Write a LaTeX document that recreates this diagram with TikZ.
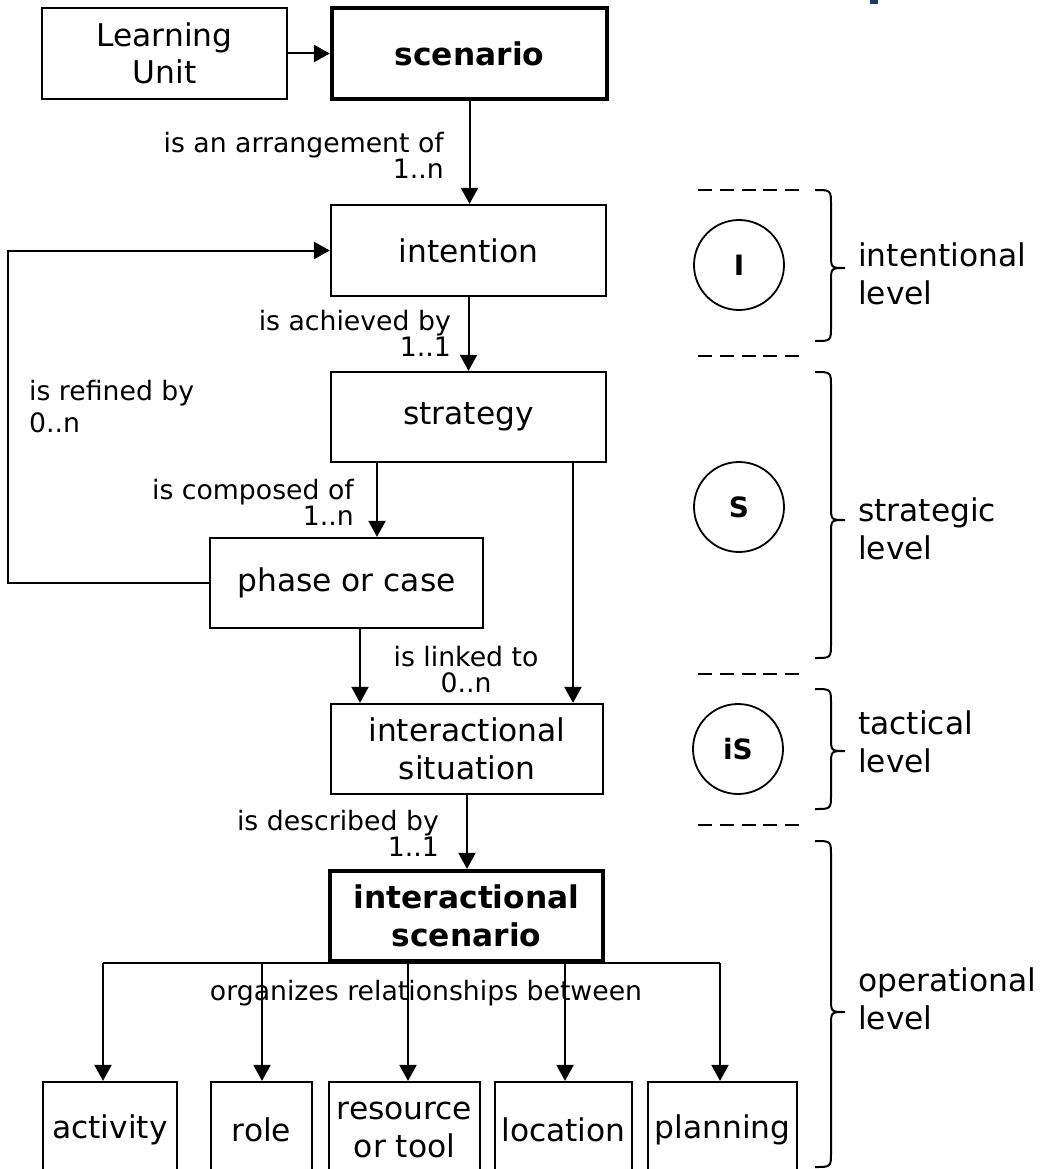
\documentclass[tikz,border=0pt]{standalone}
\usepackage{fontspec}
\setmainfont{DejaVu Sans}
\usetikzlibrary{arrows.meta}
\newcommand\bxfont{\fontsize{31.3}{37.5}\selectfont}
\newcommand\lbfont{\fontsize{26.7}{26}\selectfont}
\newcommand\ccfont{\fontsize{28}{30}\selectfont}
\newcommand\lvlbrace[3]{\draw[brc] (815,#1) .. controls (831,#1) .. (831,#1+15) -- (831,#3-14) .. controls (831,#3) .. (845,#3) .. controls (831,#3) .. (831,#3+14) -- (831,#2-15) .. controls (831,#2) .. (815,#2);}
\definecolor{navy}{RGB}{31,62,102}
\begin{document}
\begin{tikzpicture}[x=1pt,y=-1pt,
  box/.style={draw, line width=2.2pt, inner sep=0pt, align=center, font=\bxfont},
  bold/.style={line width=4.2pt, font=\bxfont\bfseries},
  arr/.style={line width=2pt, -{Triangle[length=16pt,width=17pt]}},
  ln/.style={line width=2pt},
  lbl/.style={inner sep=0pt, font=\lbfont},
  lvl/.style={inner sep=0pt, font=\bxfont, align=left, anchor=south west},
  circ/.style={draw, circle, line width=1.8pt, minimum size=90pt, inner sep=0pt, font=\ccfont\bfseries},
  dsh/.style={line width=2pt, dash pattern=on 14pt off 7.75pt},
  brc/.style={line width=2pt}]
\useasboundingbox (0,0) rectangle (1041,1169);
\clip (0,0) rectangle (1041,1169);
\fill[navy] (870,0) rectangle (878,4);

% main boxes
\node[box, minimum width=245pt, minimum height=91pt] (lu) at (164.5,53.5) {Learning\\Unit};
\node[box, bold, minimum width=275pt, minimum height=91pt] (scen) at (469.5,53.5) {scenario};
\node[box, minimum width=275pt, minimum height=91pt] (intent) at (468.5,250.5) {intention};
\node[box, minimum width=275pt, minimum height=90pt] (strat) at (468.5,417) {strategy};
\node[box, minimum width=273pt, minimum height=90pt] (phase) at (346.5,583) {phase or case};
\node[box, minimum width=272pt, minimum height=90pt] (isit) at (467,749) {interactional\\situation};
\node[box, bold, minimum width=273pt, minimum height=90pt] (iscen) at (466.5,916) {interactional\\scenario};

% bottom boxes
\node[box, minimum width=134pt, minimum height=96pt] (act) at (110,1130) {activity};
\node[box, minimum width=101pt, minimum height=96pt] (role) at (261.5,1130) {role};
\node[box, minimum width=151pt, minimum height=96pt] (res) at (404.5,1130) {resource\\or tool};
\node[box, minimum width=137pt, minimum height=96pt] (loc) at (563.5,1130) {location};
\node[box, minimum width=149pt, minimum height=96pt] (plan) at (722.5,1130) {planning};

% connectors
\draw[arr] (lu.east) -- (scen.west);
\draw[arr] (scen.south) -- (scen.south |- intent.north);
\draw[arr] (intent.south) -- (intent.south |- strat.north);
\draw[arr] ([xshift=-91.5pt]strat.south) -- ([xshift=-91.5pt]strat.south |- phase.north);
\draw[arr] ([xshift=104.5pt]strat.south) -- ([xshift=104.5pt]strat.south |- isit.north);
\draw[arr] ([xshift=13.5pt]phase.south) -- ([xshift=13.5pt]phase.south |- isit.north);
\draw[arr] (phase.west) -- ++(-201,0) |- (intent.west);
\draw[arr] (isit.south) -- (isit.south |- iscen.north);

\draw[ln] ([xshift=-7pt]act.north |- iscen.south) -- ([xshift=-2.5pt]plan.north |- iscen.south);
\draw[arr] ([xshift=-7pt]act.north |- iscen.south) -- ([xshift=-7pt]act.north);
\draw[arr] ([xshift=0.5pt]role.north |- iscen.south) -- ([xshift=0.5pt]role.north);
\draw[arr] ([xshift=3.5pt]res.north |- iscen.south) -- ([xshift=3.5pt]res.north);
\draw[arr] ([xshift=1.5pt]loc.north |- iscen.south) -- ([xshift=1.5pt]loc.north);
\draw[arr] ([xshift=-2.5pt]plan.north |- iscen.south) -- ([xshift=-2.5pt]plan.north);

% connector labels
\node[lbl, align=right, anchor=south east] (l1) at (444,179) {is an arrangement of\\1..n};
\node[lbl, align=right, anchor=south east] (l2) at (451,357) {is achieved by\\1..1};
\node[lbl, align=left, anchor=south west, font=\fontsize{26.7}{32}\selectfont] (l3) at (29,433) {is refined by\\0..n};
\node[lbl, align=right, anchor=south east] (l4) at (354,526) {is composed of\\1..n};
\node[lbl, align=center, anchor=south] (l5) at (466,693) {is linked to\\0..n};
\node[lbl, align=right, anchor=south east] (l6) at (439,857) {is described by\\1..1};
\node[lbl, anchor=base] (l7) at (426,1000) {organizes relationships between};

% level markers
\node[circ] (cI) at (739,265) {I};
\node[circ] (cS) at (739,507) {S};
\node[circ] (ciS) at (738,749) {iS};

\draw[dsh] (698,190) -- (799,190);
\draw[dsh] (698,356) -- (799,356);
\draw[dsh] (698,674) -- (799,674);
\draw[dsh] (698,825) -- (799,825);

\lvlbrace{190}{341}{268}
\lvlbrace{372}{658}{520}
\lvlbrace{689}{809}{751}
\lvlbrace{841}{1167}{1012}

\node[lvl] (li) at (858,305) {intentional\\level};
\node[lvl] (ls) at (858,560) {strategic\\level};
\node[lvl] (lt) at (858,773) {tactical\\level};
\node[lvl] (lo) at (858,1030) {operational\\level};
\end{tikzpicture}
\end{document}
